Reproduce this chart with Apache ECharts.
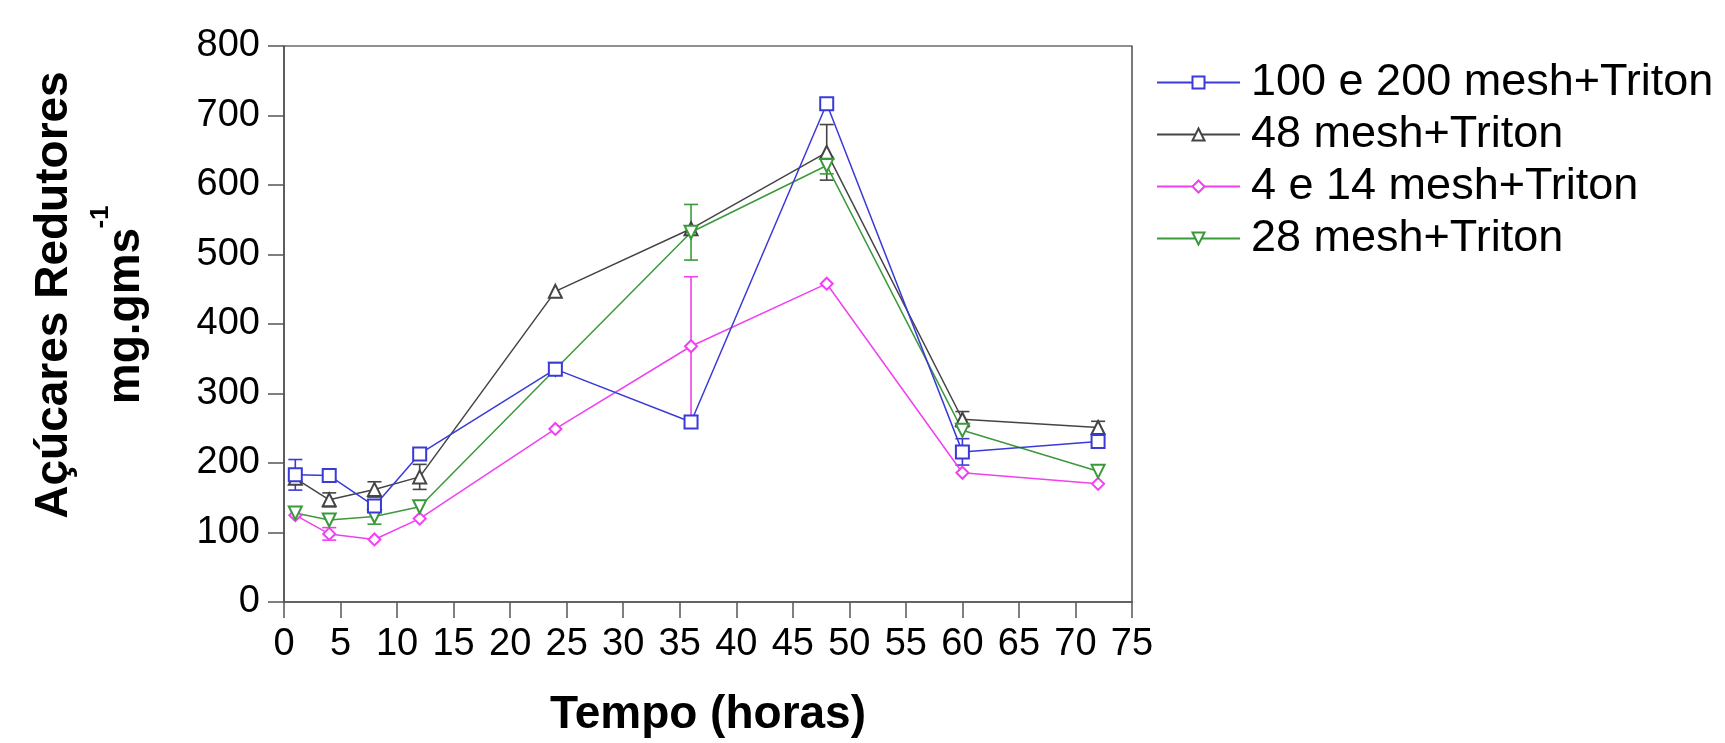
<!DOCTYPE html>
<html>
<head>
<meta charset="utf-8">
<script src="https://cdn.jsdelivr.net/npm/echarts@6/dist/echarts.min.js"></script>
<style>
  html, body { margin: 0; padding: 0; background: #fff; }
  #chart { width: 1725px; height: 743px; }
</style>
</head>
<body>
<div id="chart"></div>
<script>
// Time points (hours)
const horas = [1, 4, 8, 12, 24, 36, 48, 60, 72];

// Reducing sugars (mg.gms-1) per particle size
const serieNames = ["100 e 200 mesh+Triton", "48 mesh+Triton", "4 e 14 mesh+Triton", "28 mesh+Triton"];
const mesh100_200 = [183, 182, 138, 213, 335, 259, 717, 216, 231];
const mesh48 = [178, 147, 162, 180, 447, 537, 647, 263, 251];
const mesh4_14 = [125, 98, 90, 120, 249, 368, 458, 186, 170];
const mesh28 = [128, 118, 123, 137, 335, 532, 628, 247, 188];

// Error bars (+/-), 0 = not shown
const err100_200 = [22, 0, 0, 0, 4, 5, 0, 19, 0];
const err48 = [0, 10, 11, 18, 0, 0, 40, 11, 9];
const err4_14 = [0, 9, 0, 0, 0, 100, 0, 0, 0];
const err28 = [0, 0, 11, 0, 0, 40, 12, 0, 0];

const colors = ["#3a3ad8", "#444444", "#f040f0", "#3a9a3a"];
const FONT = "'Liberation Sans', Arial, sans-serif";

// pair x/y values for a value-axis line series
function toPoints(values) {
  return values.map((v, i) => [horas[i], v]);
}

// build [x, low, high] rows for error bars
function toErrors(values, errs) {
  const rows = [];
  values.forEach((v, i) => {
    if (errs[i] > 0) rows.push([horas[i], v - errs[i], v + errs[i]]);
  });
  return rows;
}

// custom series drawing vertical error bars with caps
function errorSeries(name, values, errs, color, z) {
  return {
    name: name,
    type: "custom",
    z: z,
    data: toErrors(values, errs),
    renderItem: function (params, api) {
      const top = api.coord([api.value(0), api.value(2)]);
      const bot = api.coord([api.value(0), api.value(1)]);
      const w = 7;
      const st = { stroke: color, lineWidth: 1.6 };
      return {
        type: "group",
        children: [
          { type: "line", shape: { x1: top[0], y1: top[1], x2: bot[0], y2: bot[1] }, style: st },
          { type: "line", shape: { x1: top[0] - w, y1: top[1], x2: top[0] + w, y2: top[1] }, style: st },
          { type: "line", shape: { x1: bot[0] - w, y1: bot[1], x2: bot[0] + w, y2: bot[1] }, style: st },
        ],
      };
    },
  };
}

function lineSeries(name, values, color, symbol, size, rotate, z) {
  return {
    name: name,
    type: "line",
    z: z,
    data: toPoints(values),
    symbol: symbol,
    symbolSize: size,
    symbolRotate: rotate,
    showAllSymbol: true,
    lineStyle: { color: color, width: 1.5 },
    itemStyle: { color: color, borderColor: color, borderWidth: 1.6 },
  };
}

const chart = echarts.init(document.getElementById("chart"));

const option = {
  backgroundColor: "#ffffff",
  animation: false,
  grid: {
    left: 284,
    top: 46,
    width: 848,
    height: 560,
    show: true,
    borderColor: "#222",
    borderWidth: 1.2,
    containLabel: false,
  },
  legend: {
    data: serieNames,
    orient: "vertical",
    left: 1156,
    top: 60,
    padding: 0,
    itemGap: 7,
    itemWidth: 83,
    itemHeight: 15,
    textStyle: { fontSize: 45, color: "#000", fontFamily: FONT, padding: [0, 0, 0, 6] },
  },
  xAxis: {
    type: "value",
    min: 0,
    max: 75,
    interval: 5,
    name: "Tempo (horas)",
    nameLocation: "middle",
    nameGap: 90,
    nameTextStyle: { fontSize: 46, fontWeight: "bold", color: "#000", fontFamily: FONT },
    axisLine: { onZero: false, lineStyle: { color: "#555", width: 1.5 } },
    axisTick: { inside: false, length: 16, lineStyle: { color: "#555", width: 1.5 } },
    axisLabel: { fontSize: 38, color: "#000", margin: 24, fontFamily: FONT },
    splitLine: { show: false },
  },
  yAxis: {
    type: "value",
    min: 0,
    max: 800,
    interval: 100,
    axisLine: { show: true, onZero: false, lineStyle: { color: "#555", width: 1.5 } },
    axisTick: { show: true, inside: false, length: 16, lineStyle: { color: "#555", width: 1.5 } },
    axisLabel: { fontSize: 38, color: "#000", margin: 24, fontFamily: FONT },
    splitLine: { show: false },
  },
  graphic: [
    {
      type: "text",
      x: 54,
      y: 295,
      rotation: Math.PI / 2,
      style: { text: "Açúcares Redutores", font: "bold 46px " + FONT, fill: "#000", align: "center", verticalAlign: "middle" },
    },
    {
      type: "text",
      x: 126,
      y: 316,
      rotation: Math.PI / 2,
      style: { text: "mg.gms", font: "bold 46px " + FONT, fill: "#000", align: "center", verticalAlign: "middle" },
    },
    {
      type: "text",
      x: 101,
      y: 217,
      rotation: Math.PI / 2,
      style: { text: "-1", font: "bold 26px " + FONT, fill: "#000", align: "center", verticalAlign: "middle" },
    },
  ],
  series: [
    errorSeries("err48", mesh48, err48, colors[1], 2),
    errorSeries("err4_14", mesh4_14, err4_14, colors[2], 2),
    errorSeries("err28", mesh28, err28, colors[3], 2),
    errorSeries("err100_200", mesh100_200, err100_200, colors[0], 2),
    lineSeries(serieNames[1], mesh48, colors[1], "emptyTriangle", 13, 0, 3),
    lineSeries(serieNames[2], mesh4_14, colors[2], "emptyDiamond", 12, 0, 3),
    lineSeries(serieNames[3], mesh28, colors[3], "emptyTriangle", 13, 180, 3),
    lineSeries(serieNames[0], mesh100_200, colors[0], "emptyRect", 13, 0, 4),
  ],
};

chart.setOption(option);
</script>
</body>
</html>
